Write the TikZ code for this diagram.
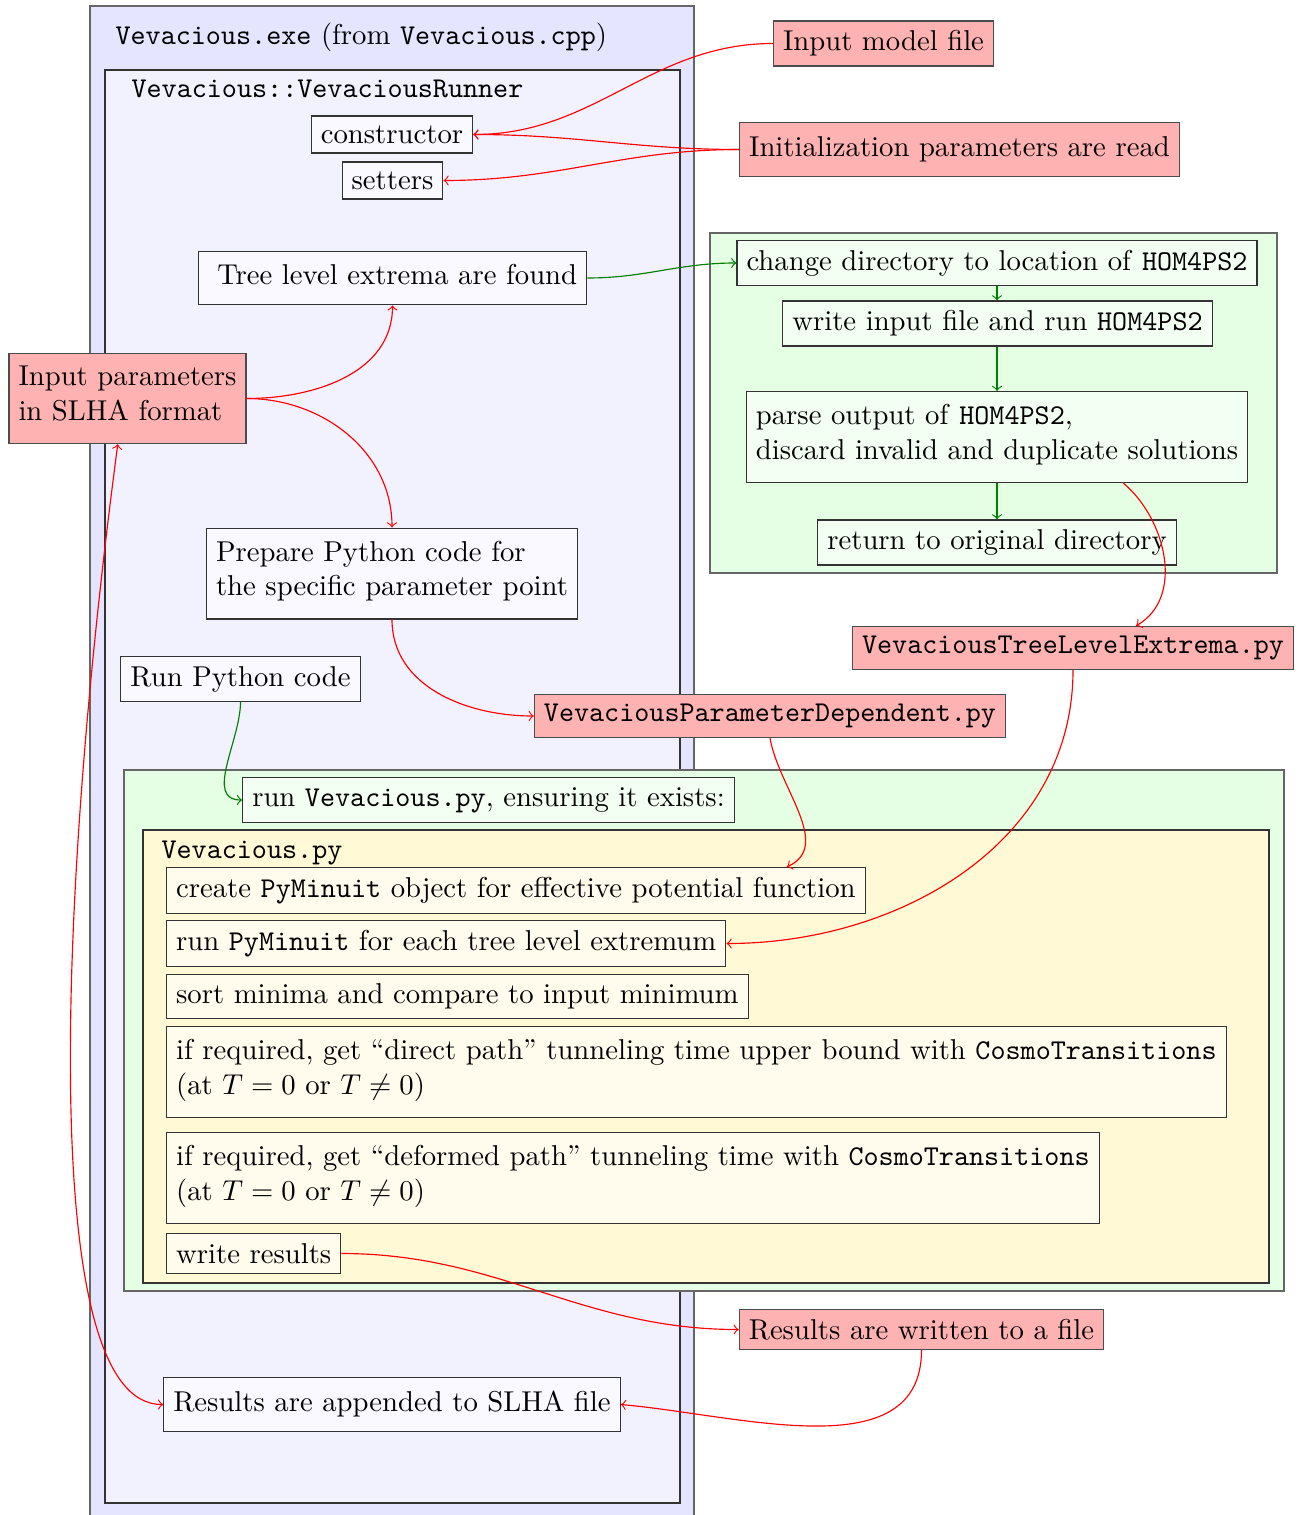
\documentclass[tikz,border=0pt]{standalone}
\usepackage{amssymb}
\usepackage{amsmath}
\usepackage{tikz}
\usetikzlibrary{calc}

\definecolor{pyyellow}{RGB}{255,249,214}

\begin{document}
\begin{tikzpicture}[x=0.3484pt, y=-0.3484pt,
    box/.style={draw=black!80, fill=white, fill opacity=0.6, text opacity=1},
    tallbox/.style={box, align=left, execute at begin node=\strut, execute at end node=\strut},
    filebox/.style={draw=black!70, fill=red!30},
    tallfile/.style={filebox, align=left, execute at begin node=\strut, execute at end node=\strut},
    twolines/.style={inner ysep=4.5pt},
    region/.style={draw=black!60},
    frametitle/.style={anchor=base west, inner sep=0},
    redarr/.style={red, ->},
    greenarr/.style={green!50!black, ->}]
    \useasboundingbox (0,0) rectangle (1305,1515);

    \draw[region, fill=blue!10] (90,6) rectangle (694,1520); % Vevacious.exe
    \draw[draw=black!80, fill=blue!5] (105,70) rectangle (680,1503); % VevaciousRunner
    \draw[region, fill=green!10] (710,233) rectangle (1277,573); % HOM4PS2
    \draw[region, fill=green!10] (124,770) rectangle (1284,1291); % python
    \draw[draw=black!80, fill=pyyellow] (143,830) rectangle (1269,1283); % Vevacious.py

    \node[frametitle] (exetitle) at (115,44) {\texttt{Vevacious.exe} (from \texttt{Vevacious.cpp})};
    \node[frametitle, font=\ttfamily] (runnertitle) at (131,97) {Vevacious::VevaciousRunner};
    \node[frametitle, font=\ttfamily] (pytitle) at (161,858) {Vevacious.py};

    % runner
    \node[box] (ctor) at (392,134.5) {constructor};
    \node[box] (set) at (392.5,180.5) {setters};
    \node[tallbox] (tree) at (392.5,278) {\ Tree level extrema are found};
    \node[tallbox, twolines] (prep) at (392,573.5) {Prepare Python code for\\the specific parameter point};
    \node[box] (run) at (240.5,679) {Run Python code};
    \node[tallbox] (app) at (392,1404.5) {Results are appended to SLHA file};

    % files
    \node[filebox] (model) at (883.5,43.5) {Input model file};
    \node[tallfile] (init) at (959.5,149.5) {Initialization parameters are read};
    \node[tallfile, twolines] (inp) at (127.5,398.5) {Input parameters\\in SLHA format};
    \node[filebox, font=\ttfamily] (tle) at (1073,648) {VevaciousTreeLevelExtrema.py};
    \node[filebox, font=\ttfamily] (vpd) at (770,716) {VevaciousParameterDependent.py};
    \node[filebox] (written) at (921.5,1329.5) {Results are written to a file};

    % HOM4PS2
    \node[box] (cd) at (997,263) {change directory to location of \texttt{HOM4PS2}};
    \node[box] (hom) at (997.5,323.5) {write input file and run \texttt{HOM4PS2}};
    \node[tallbox, twolines] (parse) at (997,437) {parse output of \texttt{HOM4PS2},\\discard invalid and duplicate solutions};
    \node[box] (ret) at (997,542.5) {return to original directory};

    % python
    \node[box] (runpy) at (488.5,800) {run \texttt{Vevacious.py}, ensuring it exists:};
    \node[box, anchor=west] (create) at (166,890.5) {create \texttt{PyMinuit} object for effective potential function};
    \node[box, anchor=west] (minuit) at (166,943.5) {run \texttt{PyMinuit} for each tree level extremum};
    \node[box, anchor=west] (sort) at (166,996.5) {sort minima and compare to input minimum};
    \node[tallbox, twolines, anchor=west] (direct) at (166,1072) {if required, get ``direct path'' tunneling time upper bound with \texttt{CosmoTransitions}\\(at $T=0$ or $T\neq0$)};
    \node[tallbox, twolines, anchor=west] (deform) at (166,1178) {if required, get ``deformed path'' tunneling time with \texttt{CosmoTransitions}\\(at $T=0$ or $T\neq0$)};
    \node[box, anchor=west] (write) at (166,1253.5) {write results};

    \draw[redarr] (model.west) to[out=180,in=0] (ctor.east);
    \draw[redarr] (init.west) to[out=180,in=0] (ctor.east);
    \draw[redarr] (init.west) to[out=180,in=0] (set.east);
    \draw[redarr] (inp.east) to[out=0,in=-90] (tree.south);
    \draw[redarr] (inp.east) to[out=0,in=90] (prep.north);
    \draw[greenarr] (tree.east) to[out=0,in=180] (cd.west);

    \draw[greenarr] (cd.south) -- (cd.south |- hom.north);
    \draw[greenarr] (cd.south |- hom.south) -- (cd.south |- parse.north);
    \draw[greenarr] (cd.south |- parse.south) -- (cd.south |- ret.north);
    \draw[redarr] ($(parse.south east)+(-125,0)$) to[out=-40,in=30] ($(tle.north east)+(-158,0)$);

    \draw[redarr] (prep.south) to[out=-90,in=180] (vpd.west);
    \draw[greenarr] (run.south) to[out=-90,in=180] (runpy.west);
    \draw[redarr] (vpd.south) to[out=-80,in=25] ($(create.north east)+(-79,0)$);
    \draw[redarr] (tle.south) to[out=-90,in=0] (minuit.east);

    \draw[redarr] (write.east) to[out=0,in=180] (written.west);
    \draw[redarr] (written.south) to[out=-90,in=-5] (app.east);
    \draw[redarr, <->] (app.west) .. controls (35,1405) and (60,880) .. (inp.258);
\end{tikzpicture}
\end{document}
